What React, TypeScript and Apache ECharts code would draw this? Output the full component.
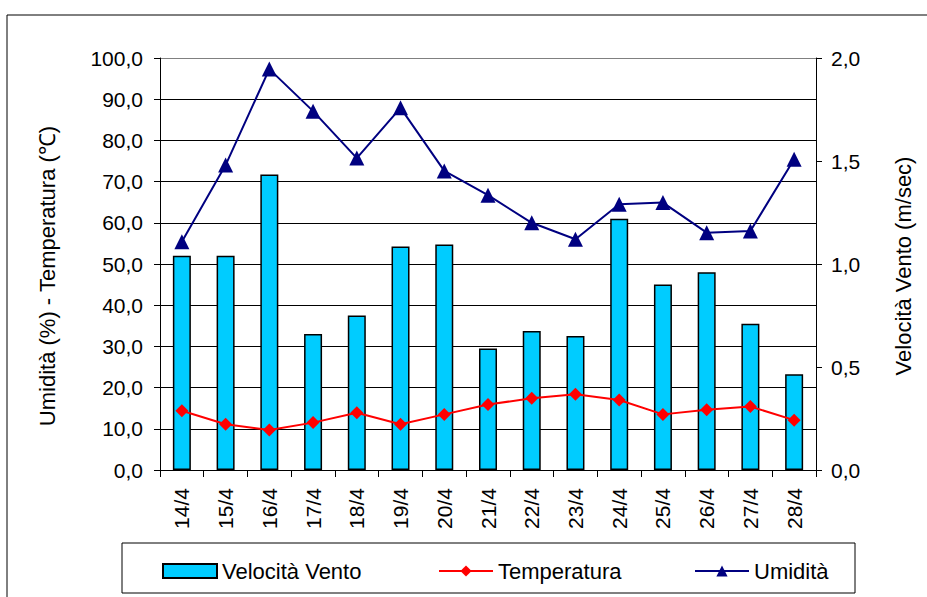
import React, { useEffect, useRef } from "react";
import * as echarts from "echarts";

const categories = ["14/4", "15/4", "16/4", "17/4", "18/4", "19/4", "20/4", "21/4", "22/4", "23/4", "24/4", "25/4", "26/4", "27/4", "28/4"];
const velocitaVento = [1.04, 1.04, 1.435, 0.66, 0.75, 1.085, 1.095, 0.59, 0.675, 0.65, 1.22, 0.9, 0.96, 0.71, 0.465];
const temperatura = [14.4, 11.1, 9.7, 11.5, 13.9, 11.1, 13.5, 15.9, 17.4, 18.4, 17.0, 13.5, 14.6, 15.4, 12.1];
const umidita = [55.4, 74.0, 97.3, 87.1, 75.7, 87.9, 72.6, 66.7, 60.0, 56.0, 64.5, 64.9, 57.6, 58.0, 75.4];

const leftTitle = "Umidità (%) - Temperatura (℃)";
const rightTitle = "Velocità Vento (m/sec)";

const FONT = "'Liberation Sans', Arial, sans-serif";
const fmt = (v: number) => v.toFixed(1).replace(".", ",");

export default function App() {
  const ref = useRef<HTMLDivElement>(null);
  useEffect(() => {
    if (!ref.current) return;
    const chart = echarts.init(ref.current, null, { renderer: "svg" });
    const gridColors = ["#000", "#000", "#000", "#000", "#000", "#000", "#000", "#000", "#000", "#000", "#808080"];
    const legendText = { fontSize: 22, color: "#000", fontFamily: FONT };
    const legendBase = { padding: 0, top: 560, itemWidth: 54, itemHeight: 14, textStyle: legendText };
    chart.setOption({
      animation: false,
      backgroundColor: "#fff",
      textStyle: { fontFamily: FONT },
      grid: { left: 160, right: 111, top: 58, bottom: 127 },
      graphic: [
        { type: "rect", shape: { x: 7, y: 15, width: 940, height: 600 }, style: { fill: "none", stroke: "#000", lineWidth: 1 }, silent: true },
        { type: "rect", shape: { x: 122, y: 543, width: 733, height: 50 }, style: { fill: "none", stroke: "#000", lineWidth: 1 }, silent: true },
        {
          type: "text", x: 47, y: 276, rotation: Math.PI / 2, silent: true,
          style: { text: leftTitle, fontSize: 22, fill: "#000", fontFamily: FONT, textAlign: "center", textVerticalAlign: "middle" },
        },
        {
          type: "text", x: 903, y: 266, rotation: Math.PI / 2, silent: true,
          style: { text: rightTitle, fontSize: 22, fill: "#000", fontFamily: FONT, textAlign: "center", textVerticalAlign: "middle" },
        },
      ],
      legend: [
        { ...legendBase, data: [{ name: "Velocità Vento", icon: "rect" }], left: 162 },
        { ...legendBase, data: ["Temperatura"], left: 438 },
        { ...legendBase, data: ["Umidità"], left: 694 },
      ],
      xAxis: {
        type: "category",
        data: categories,
        boundaryGap: true,
        axisLine: { lineStyle: { color: "#000", width: 1 } },
        axisTick: { show: true, alignWithLabel: false, length: 7, lineStyle: { color: "#000" } },
        axisLabel: { rotate: 90, fontSize: 21, color: "#000", margin: 18, fontFamily: FONT },
        splitLine: { show: false },
      },
      yAxis: [
        {
          type: "value",
          min: 0,
          max: 100,
          interval: 10,
          axisLine: { show: true, lineStyle: { color: "#000", width: 1 } },
          axisTick: { show: true, length: 6, lineStyle: { color: "#000" } },
          axisLabel: { fontSize: 21, color: "#000", margin: 17, formatter: fmt, fontFamily: FONT },
          splitLine: { show: true, lineStyle: { color: gridColors, width: 1 } },
        },
        {
          type: "value",
          min: 0,
          max: 2,
          interval: 0.5,
          position: "right",
          axisLine: { show: true, lineStyle: { color: "#000", width: 1 } },
          axisTick: { show: true, length: 6, lineStyle: { color: "#000" } },
          axisLabel: { fontSize: 21, color: "#000", margin: 15, formatter: fmt, fontFamily: FONT },
          splitLine: { show: false },
        },
      ],
      series: [
        {
          name: "Velocità Vento",
          type: "bar",
          yAxisIndex: 1,
          data: velocitaVento,
          barWidth: 18,
          itemStyle: { color: "#00CCFF", borderColor: "#000", borderWidth: 1.5 },
        },
        {
          name: "Temperatura",
          type: "line",
          yAxisIndex: 0,
          data: temperatura,
          symbol: "diamond",
          symbolSize: 13,
          lineStyle: { color: "#FF0000", width: 2 },
          itemStyle: { color: "#FF0000" },
        },
        {
          name: "Umidità",
          type: "line",
          yAxisIndex: 0,
          data: umidita,
          symbol: "triangle",
          symbolSize: 15,
          lineStyle: { color: "#000080", width: 2 },
          itemStyle: { color: "#000080" },
        },
      ],
    });
    return () => chart.dispose();
  }, []);
  return <div ref={ref} style={{ position: "fixed", left: 0, top: 0, width: 927, height: 597 }} />;
}
